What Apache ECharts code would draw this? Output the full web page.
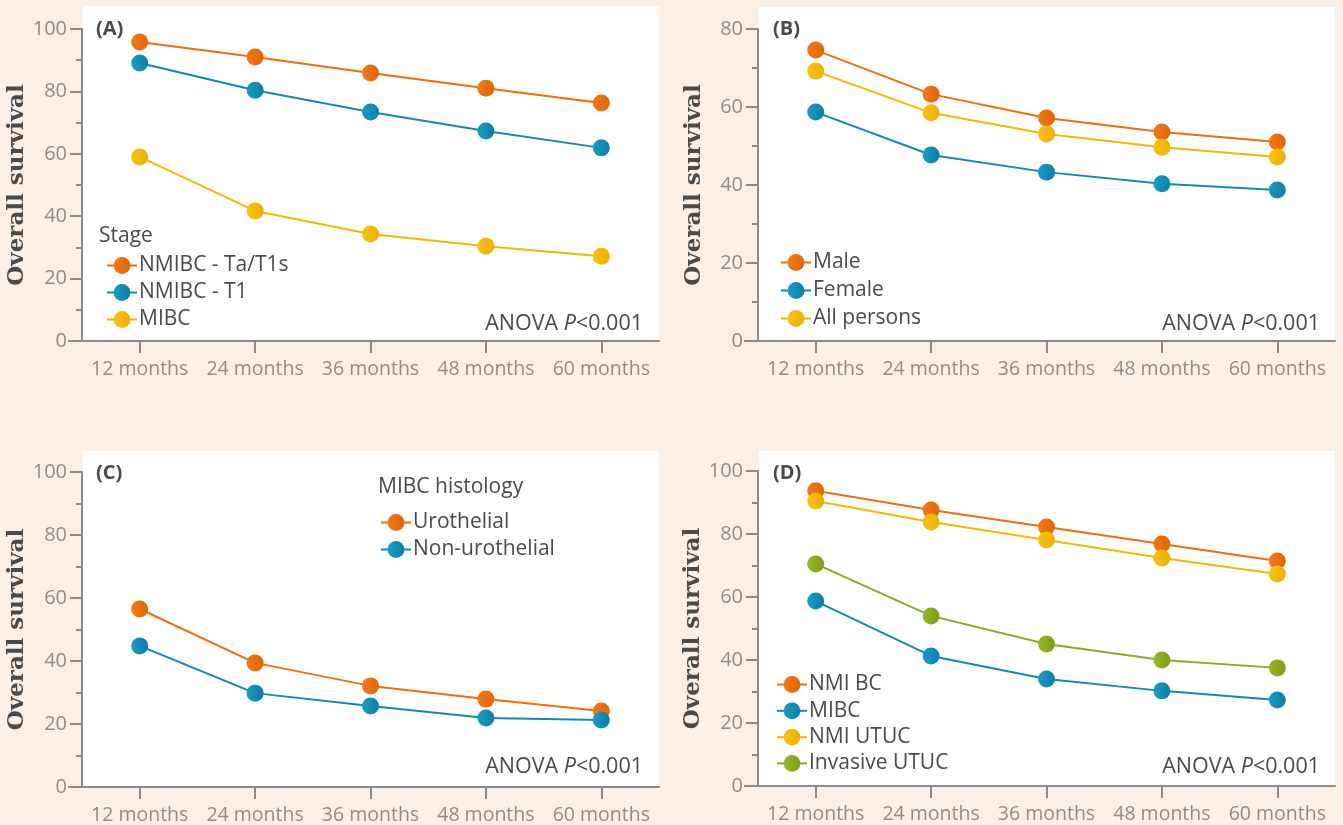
<!DOCTYPE html>
<html>
<head>
<meta charset="utf-8">
<script src="https://cdn.jsdelivr.net/npm/echarts@6/dist/echarts.min.js"></script>
<style>
html,body{margin:0;padding:0;background:#fcf0e6;}
#c{width:1343px;height:825px;}
</style>
</head>
<body>
<div id="c"></div>
<script>
// ---- data ----
const months = ['12 months', '24 months', '36 months', '48 months', '60 months'];

// (A) Stage
const stageTaT1s = [95.8, 91.0, 85.9, 81.0, 76.3];
const stageT1 = [89.1, 80.4, 73.4, 67.3, 61.9];
const stageMIBC = [59.0, 41.7, 34.3, 30.4, 27.2];

// (B) Sex
const sexMale = [74.6, 63.3, 57.2, 53.6, 51.0];
const sexFemale = [58.7, 47.7, 43.3, 40.3, 38.7];
const sexAll = [69.2, 58.5, 53.1, 49.7, 47.2];

// (C) MIBC histology
const histUro = [56.5, 39.4, 32.1, 27.9, 24.1];
const histNonUro = [44.8, 29.8, 25.7, 21.9, 21.3];

// (D) Tumour type
const typeNMIBC = [93.7, 87.6, 82.2, 76.8, 71.4];
const typeMIBC = [58.7, 41.3, 34.0, 30.2, 27.3];
const typeNMIUTUC = [90.5, 83.8, 78.1, 72.4, 67.3];
const typeInvUTUC = [70.5, 54.0, 45.1, 40.0, 37.5];

const yTicksA = [0, 100, 20];
const yTicksB = [0, 80, 20];

// ---- styling ----
const C = {
  orange: ['#f27a1a', '#e26500'],
  blue: ['#1a9cc4', '#0a7fa8'],
  yellow: ['#f8c313', '#efae00'],
  green: ['#98b72c', '#7e9c16']
};
const lineCol = {orange: '#ee6e0c', blue: '#1089b3', yellow: '#f5b800', green: '#8aab20'};
const FONT = '"Open Sans", sans-serif';
const axisGrey = '#8a8a8a';
const textDark = '#4a4a4a';
const TXT = 21;

const grids = [
  {left: 82, top: 29, width: 577, height: 312},
  {left: 758, top: 29, width: 577, height: 312},
  {left: 82, top: 472, width: 577, height: 315},
  {left: 758, top: 471, width: 577, height: 315}
];

function mkSeries(name, data, col, idx) {
  return {
    name: name, type: 'line', data: data,
    xAxisIndex: idx, yAxisIndex: idx,
    symbol: 'circle', symbolSize: 17,
    lineStyle: {color: lineCol[col], width: 2},
    itemStyle: {color: {type: 'linear', x: 0, y: 0, x2: 1, y2: 0,
      colorStops: [{offset: 0, color: C[col][0]}, {offset: 1, color: C[col][1]}]}},
    emphasis: {disabled: true},
    animation: false,
    z: 5
  };
}

function xAxis(i) {
  return {
    type: 'category', gridIndex: i, data: months, boundaryGap: true,
    axisLine: {show: true, lineStyle: {color: axisGrey, width: 2}},
    axisTick: {show: true, alignWithLabel: true, length: 12, lineStyle: {color: axisGrey, width: 2}},
    axisLabel: {color: '#8c8c8c', fontSize: 19.5, fontFamily: FONT, margin: 18, interval: 0}
  };
}
function yAxis(i, t) {
  return {
    type: 'value', gridIndex: i, min: t[0], max: t[1], interval: t[2],
    name: 'Overall survival', nameLocation: 'middle', nameGap: 52,
    nameTextStyle: {fontFamily: '"DejaVu Serif", serif', fontWeight: 'bold', fontSize: 23, color: textDark},
    axisLine: {show: true, lineStyle: {color: axisGrey, width: 2}},
    axisTick: {show: true, length: 12, lineStyle: {color: axisGrey, width: 2}},
    minorTick: {show: true, splitNumber: 2, length: 6, lineStyle: {color: axisGrey, width: 2}},
    splitLine: {show: false},
    axisLabel: {color: '#8c8c8c', fontSize: 20, fontFamily: FONT, margin: 15}
  };
}

function legend(left, top, gap, names) {
  return {
    orient: 'vertical', left: left, top: top, itemGap: gap,
    itemWidth: 30, itemHeight: 21, selectedMode: false,
    data: names,
    formatter: n => n.replace(/^[A-D]:/, ''),
    textStyle: {color: textDark, fontSize: TXT, fontFamily: FONT, padding: [0, 0, 0, -3]}
  };
}

function titleText(text, left, top, bold, size) {
  return {text: text, left: left, top: top, padding: 0,
    textStyle: {color: textDark, fontSize: size || TXT, fontFamily: FONT, fontWeight: bold ? 'bold' : 'normal'}};
}
function anova(right, top) {
  return {text: '{n|ANOVA }{i|P}{n|<0.001}', right: right, top: top, padding: 0,
    textStyle: {fontWeight: 'normal', rich: {
      n: {color: textDark, fontSize: 21.5, fontFamily: FONT, fontWeight: 'normal'},
      i: {color: textDark, fontSize: 21.5, fontFamily: FONT, fontStyle: 'italic', fontWeight: 'normal'}
    }}};
}

const whiteBoxes = [
  [83, 6, 576, 335], [759, 7, 576, 334], [83, 451, 576, 335], [759, 451, 576, 334]
].map(b => ({type: 'rect', shape: {x: b[0], y: b[1], width: b[2], height: b[3]},
  style: {fill: '#ffffff'}, z: -10, silent: true}));
const axisExt = [[68, 341], [744, 341], [68, 787], [744, 786]].map(p => ({
  type: 'line', shape: {x1: p[0], y1: p[1], x2: p[0] + 15, y2: p[1]},
  style: {stroke: axisGrey, lineWidth: 2}, z: 10, silent: true}));

const option = {
  backgroundColor: '#fcf0e6',
  animation: false,
  grid: grids,
  xAxis: [xAxis(0), xAxis(1), xAxis(2), xAxis(3)],
  yAxis: [yAxis(0, yTicksA), yAxis(1, yTicksB), yAxis(2, yTicksA), yAxis(3, yTicksA)],
  graphic: whiteBoxes.concat(axisExt),
  title: [
    titleText('(A)', 96, 19, true, 20), titleText('(B)', 773, 19, true, 20),
    titleText('(C)', 96, 463, true, 20), titleText('(D)', 773, 463, true, 20),
    titleText('Stage', 99, 226, false), titleText('MIBC histology', 378, 477, false),
    anova(700, 313), anova(23, 313), anova(700, 756), anova(23, 756)
  ],
  legend: [
    legend(101, 250, 6, ['A:NMIBC - Ta/T1s', 'A:NMIBC - T1', 'A:MIBC']),
    legend(775, 247, 7, ['B:Male', 'B:Female', 'B:All persons']),
    legend(375, 507, 6, ['C:Urothelial', 'C:Non-urothelial']),
    legend(771, 669, 5.3, ['D:NMI BC', 'D:MIBC', 'D:NMI UTUC', 'D:Invasive UTUC'])
  ],
  series: [
    mkSeries('A:NMIBC - Ta/T1s', stageTaT1s, 'orange', 0),
    mkSeries('A:NMIBC - T1', stageT1, 'blue', 0),
    mkSeries('A:MIBC', stageMIBC, 'yellow', 0),
    mkSeries('B:Male', sexMale, 'orange', 1),
    mkSeries('B:Female', sexFemale, 'blue', 1),
    mkSeries('B:All persons', sexAll, 'yellow', 1),
    mkSeries('C:Urothelial', histUro, 'orange', 2),
    mkSeries('C:Non-urothelial', histNonUro, 'blue', 2),
    mkSeries('D:NMI BC', typeNMIBC, 'orange', 3),
    mkSeries('D:MIBC', typeMIBC, 'blue', 3),
    mkSeries('D:NMI UTUC', typeNMIUTUC, 'yellow', 3),
    mkSeries('D:Invasive UTUC', typeInvUTUC, 'green', 3)
  ]
};
const chart = echarts.init(document.getElementById('c'), null, {renderer: 'canvas'});
chart.setOption(option);
</script>
</body>
</html>
